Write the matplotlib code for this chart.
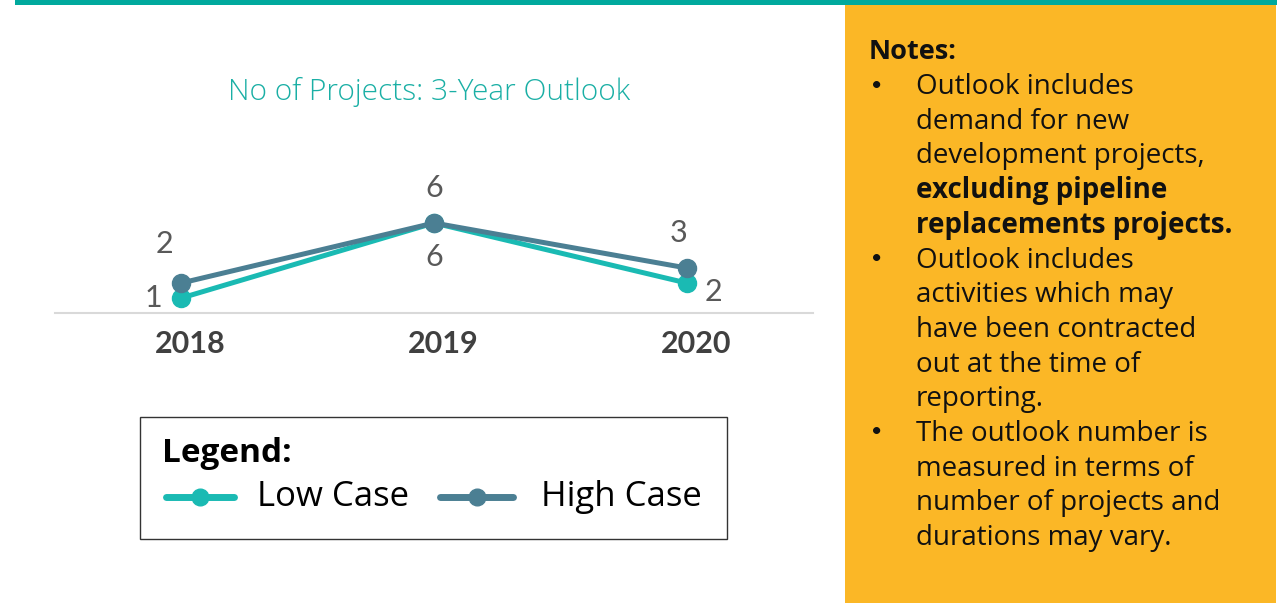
import matplotlib

matplotlib.use("Agg")
import matplotlib.pyplot as plt
import matplotlib.transforms as mtransforms
from matplotlib.lines import Line2D
from matplotlib.patches import Rectangle

W, H = 1287, 603

years = ["2018", "2019", "2020"]
low_case = [1, 6, 2]
high_case = [2, 6, 3]
series_names = ["Low Case", "High Case"]

notes_title = "Notes:"
notes_lines = [
    "Outlook includes",
    "demand for new",
    "development projects,",
    "excluding pipeline",
    "replacements projects.",
    "Outlook includes",
    "activities which may",
    "have been contracted",
    "out at the time of",
    "reporting.",
    "The outlook number is",
    "measured in terms of",
    "number of projects and",
    "durations may vary.",
]
bold_lines = {3, 4}
bullet_lines = {0, 5, 10}

TEAL = "#1ABAB3"
DARK = "#4B7F93"
ORANGE = "#FBB726"
BAR = "#00A99D"

plt.rcParams["font.family"] = ["Lato", "DejaVu Sans"]
OPEN = ["Open Sans", "DejaVu Sans"]


def fx(x):
    return x / W


def fy(y):
    return 1 - y / H


fig = plt.figure(figsize=(W / 100, H / 100), dpi=100)
fig.patch.set_facecolor("white")

# top teal bar and notes panel
fig.add_artist(Rectangle((fx(15), fy(5)), fx(1277) - fx(15), 5 / H,
                         transform=fig.transFigure, color=BAR, lw=0))
fig.add_artist(Rectangle((fx(845), 0), fx(1276) - fx(845), fy(5),
                         transform=fig.transFigure, color=ORANGE, lw=0))

# chart
ax = fig.add_axes([fx(55), fy(313), fx(813) - fx(55), 105 / H])
x = list(range(len(years)))
ax.plot(x, low_case, color=TEAL, lw=3.6, marker="o", ms=13, zorder=3)
ax.plot(x, high_case, color=DARK, lw=3.6, marker="o", ms=13, zorder=4)
ax.set_xlim(-0.5, 2.5)
ax.set_ylim(0, 7)
ax.set_xticks(x)
ax.set_xticklabels(years, fontsize=22, fontweight="bold", color="#404040")
ax.tick_params(axis="x", length=0, pad=12)
# year labels sit slightly right of the points in the original
shift = mtransforms.ScaledTranslation(9 / 100, 0, fig.dpi_scale_trans)
for lbl in ax.get_xticklabels():
    lbl.set_transform(lbl.get_transform() + shift)
ax.set_yticks([])
for s in ["top", "left", "right"]:
    ax.spines[s].set_visible(False)
ax.spines["bottom"].set_color("#D9D9D9")
ax.spines["bottom"].set_linewidth(1.5)
ax.patch.set_alpha(0)

low_off = [(-28, 0), (0, -34), (27, -9)]
high_off = [(-17, 39), (0, 35), (-8, 35)]
for xi, v, off in zip(x, low_case, low_off):
    ax.annotate(str(v), (xi, v), textcoords="offset pixels", xytext=off,
                ha="center", va="center", fontsize=22, color="#595959")
for xi, v, off in zip(x, high_case, high_off):
    ax.annotate(str(v), (xi, v), textcoords="offset pixels", xytext=off,
                ha="center", va="center", fontsize=22, color="#595959")

fig.text(fx(429), fy(92), "No of Projects: 3-Year Outlook", ha="center", va="center",
         fontsize=21.5, color="#1AAFA5", family=OPEN, fontweight="light")

# legend box
fig.add_artist(Rectangle((fx(140), fy(539)), fx(727) - fx(140), 122 / H,
                         transform=fig.transFigure, fill=False, ec="#333333", lw=1))
fig.text(fx(162), fy(453), "Legend:", ha="left", va="center", fontsize=24,
         fontweight="bold", color="black", family=OPEN)
for (x0, x1, tx), col, name in zip([(166, 234, 257), (440, 513, 541)], [TEAL, DARK], series_names):
    fig.add_artist(Line2D([fx(x0), fx(x1)], [fy(497), fy(497)], transform=fig.transFigure,
                          color=col, lw=5, solid_capstyle="round"))
    fig.add_artist(Line2D([fx((x0 + x1) / 2)], [fy(497)], transform=fig.transFigure,
                          color=col, marker="o", ms=12))
    fig.text(fx(tx), fy(497), name, ha="left", va="center", fontsize=25, color="black",
             family=OPEN)

# notes
fig.text(fx(869), fy(59), notes_title, ha="left", va="baseline", fontsize=19.5,
         fontweight="bold", color="#111111", family=OPEN)
for i, line in enumerate(notes_lines):
    y = 94 + 34.7 * i
    if i in bullet_lines:
        fig.text(fx(877), fy(y - 9), "\u2022", ha="center", va="center", fontsize=14,
                 color="#111111")
    fig.text(fx(916), fy(y), line, ha="left", va="baseline", fontsize=20, family=OPEN,
             fontweight="bold" if i in bold_lines else "normal", color="#111111")

fig.savefig("out.png", dpi=100)
